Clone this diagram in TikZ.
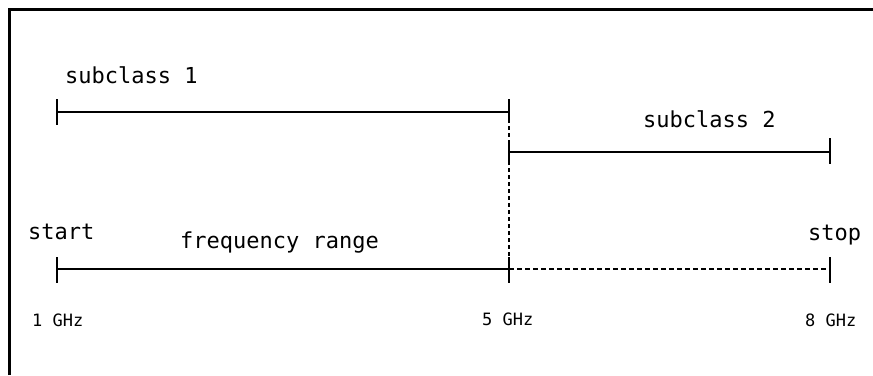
\documentclass[tikz,border=0pt]{standalone}
\usepackage{fontspec}
\setmonofont{DejaVu Sans Mono}
\begin{document}
\begin{tikzpicture}[x=1pt,y=-1pt,
  bar/.style={line width=2.4pt},
  tickmark/.style={line width=2.4pt},
  dotline/.style={line width=2.2pt, dash pattern=on 4pt off 3pt},
  dashline/.style={line width=2.2pt, dash pattern=on 5pt off 3pt},
  big/.style={font=\fontsize{22}{24}\selectfont\ttfamily, inner sep=0pt, anchor=base west},
  small/.style={font=\fontsize{17}{19}\selectfont\ttfamily, inner sep=0pt, anchor=base west}]
\useasboundingbox (0,0) rectangle (873,375);
\draw[line width=2.7pt] (9.5,375) -- (9.5,9.5) -- (873,9.5);
% end points
\coordinate (a1) at (57,112);
\coordinate (a2) at (509,112);
\coordinate (b1) at (509,152);
\coordinate (b2) at (830,152);
\coordinate (c1) at (57,269);
\coordinate (c2) at (509,269);
\coordinate (c3) at (830,269);
% dotted divider
\draw[dotline] (a2) -- (c2);
% subclass 1
\draw[bar] (a1) -- (a2);
\draw[tickmark] (a1) ++(0,-13) -- ++(0,26);
\draw[tickmark] (a2) ++(0,-13) -- ++(0,21);
% subclass 2
\draw[bar] (b1) -- (b2);
\draw[tickmark] (b1) ++(0,-12) -- ++(0,25);
\draw[tickmark] (b2) ++(0,-14) -- ++(0,26);
% frequency range
\draw[bar] (c1) -- (c2);
\draw[dashline] (c2) -- (c3);
\draw[tickmark] (c1) ++(0,-12) -- ++(0,26);
\draw[tickmark] (c2) ++(0,-12) -- ++(0,26);
\draw[tickmark] (c3) ++(0,-12) -- ++(0,26);
% labels
\node[big] (ls1) at (65,83) {subclass 1};
\node[big] (ls2) at (643,127) {subclass 2};
\node[big] (lstart) at (28,239) {start};
\node[big] (lfr) at (180,248) {frequency range};
\node[big] (lstop) at (808,240) {stop};
\node[small] (l1) at (32,326) {1 GHz};
\node[small] (l5) at (482,325) {5 GHz};
\node[small] (l8) at (805,326) {8 GHz};
\end{tikzpicture}
\end{document}
